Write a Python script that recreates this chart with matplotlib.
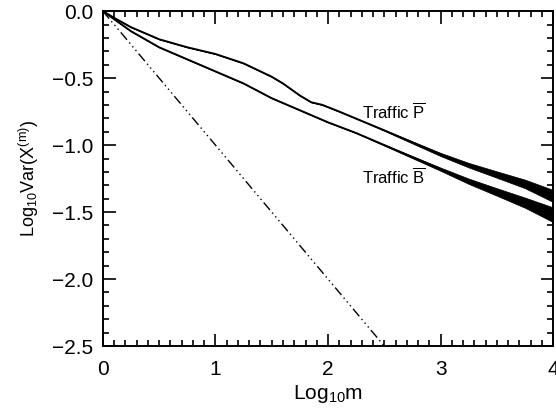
import matplotlib.pyplot as plt
import numpy as np

plt.rcParams['font.family'] = ['Liberation Sans', 'DejaVu Sans']
plt.rcParams['mathtext.default'] = 'regular'

# Traffic P (upper curve)
p_logm = [0, 0.1, 0.25, 0.5, 0.75, 1.0, 1.25, 1.4, 1.5, 1.6, 1.75, 1.85, 1.95,
          2.1, 2.3, 2.5, 2.75, 3.0, 3.25, 3.5, 3.75, 4.0]
p_logvar = [0, -0.05, -0.12, -0.21, -0.27, -0.32, -0.39, -0.45, -0.49, -0.54,
            -0.63, -0.68, -0.70, -0.75, -0.82, -0.89, -0.98, -1.07, -1.15,
            -1.22, -1.29, -1.38]
p_spread = [0, 0, 0, 0, 0, 0, 0, 0, 0, 0, 0, 0, 0,
            0, 0, 0.003, 0.008, 0.012, 0.017, 0.024, 0.032, 0.045]

# Traffic B (lower curve)
b_logm = [0, 0.1, 0.25, 0.5, 0.75, 1.0, 1.25, 1.5, 1.75, 2.0, 2.25, 2.5,
          2.75, 3.0, 3.25, 3.5, 3.75, 4.0]
b_logvar = [0, -0.06, -0.15, -0.27, -0.36, -0.45, -0.54, -0.65, -0.74, -0.83,
            -0.91, -1.00, -1.09, -1.18, -1.27, -1.35, -1.43, -1.52]
b_spread = [0, 0, 0, 0, 0, 0, 0, 0, 0, 0, 0, 0.004,
            0.008, 0.012, 0.02, 0.028, 0.038, 0.055]

# slope -1 reference line
ref_logm = [0, 2.5]
ref_logvar = [0, -2.5]

fig = plt.figure(figsize=(5.56, 4.12), dpi=100)
ax = fig.add_axes([0.185, 0.160, 0.810, 0.813])

for xs, ys, sp in [(p_logm, p_logvar, p_spread), (b_logm, b_logvar, b_spread)]:
    xs, ys, sp = np.array(xs), np.array(ys), np.array(sp)
    ax.plot(xs, ys, color='black', lw=1.4)
    ax.fill_between(xs, ys - sp, ys + sp, color='black', lw=0.5)

ax.plot(ref_logm, ref_logvar, color='black', lw=1.0,
        linestyle=(0, (7, 2.5, 1, 2.5, 1, 2.5, 1, 2.5)))

ax.text(2.30, -0.83, r'Traffic $\overline{P}$', fontsize=12, va='bottom')
ax.text(2.30, -1.31, r'Traffic $\overline{B}$', fontsize=12, va='bottom')

ax.set_xlim(0, 4)
ax.set_ylim(-2.5, 0.0)
ax.set_xticks([0, 1, 2, 3, 4])
ax.set_xticks(np.arange(0, 4.01, 0.1), minor=True)
ax.set_yticks([-2.5, -2.0, -1.5, -1.0, -0.5, 0.0])
ax.set_yticks(np.arange(-2.5, 0.01, 0.1), minor=True)
ax.set_xticklabels(['0', '1', '2', '3', '4'])
ax.set_yticklabels(['\u22122.5', '\u22122.0', '\u22121.5', '\u22121.0', '\u22120.5', '0.0'])
ax.tick_params(which='both', direction='in', top=True, right=True,
               labelsize=15, width=1.2)
ax.tick_params(which='major', length=9)
ax.tick_params(which='minor', length=4)
ax.tick_params(axis='x', which='major', pad=10)
ax.tick_params(axis='y', which='major', pad=7)
for s in ax.spines.values():
    s.set_linewidth(1.4)

ax.set_xlabel('Log$_{10}$m', fontsize=15, labelpad=3)
ax.set_ylabel('Log$_{10}$Var(X$^{(m)}$)', fontsize=13, labelpad=8)

plt.savefig('out.png', dpi=100)
